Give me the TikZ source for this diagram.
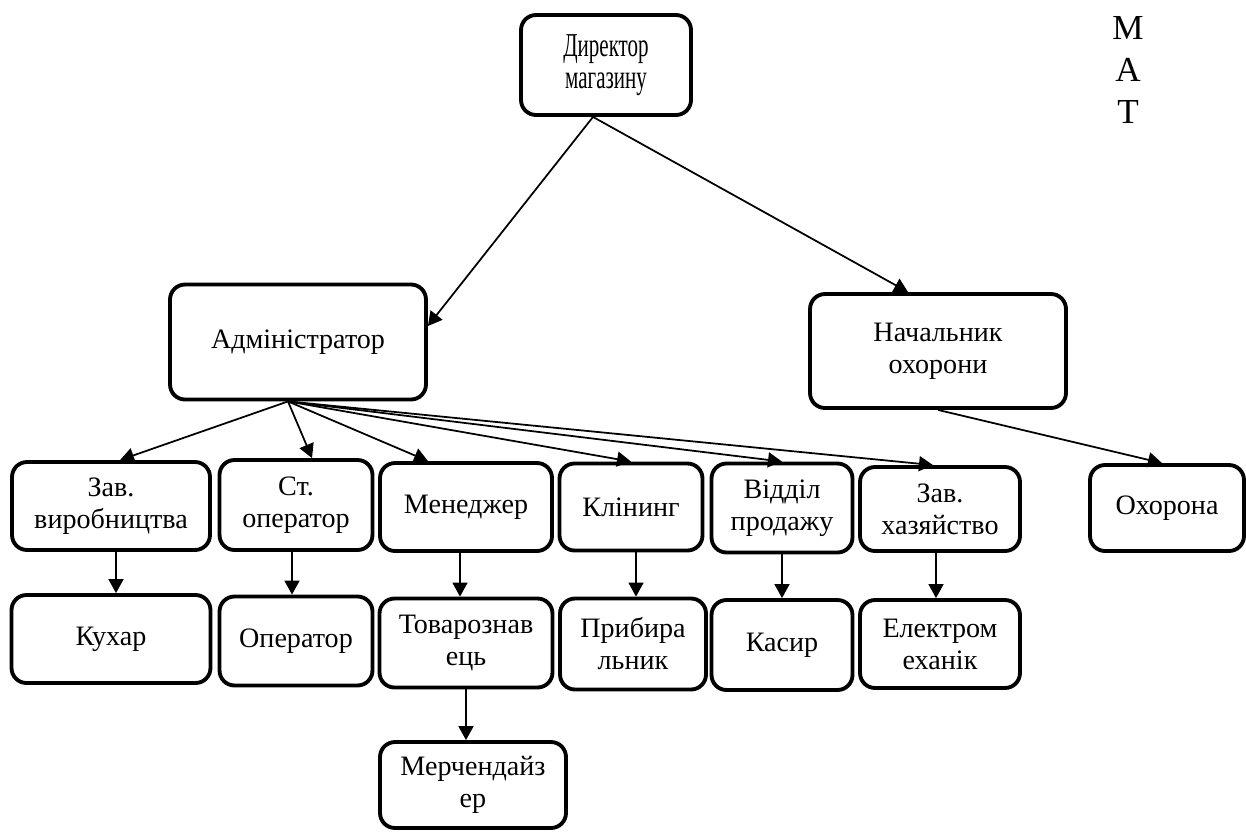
\documentclass[tikz,border=0pt]{standalone}
\usepackage{fontspec}
\setmainfont{Liberation Serif}
\newfontfamily\narrowfont[FakeStretch=0.63]{Liberation Serif}
\usepackage{tikz}
\usetikzlibrary{calc}
\usetikzlibrary{arrows.meta}

\begin{document}
\begin{tikzpicture}[x=0.02cm, y=-0.02cm,
  box/.style={draw, line width=2.2pt, rounded corners=0.3cm, align=center,
    inner sep=1pt, font=\fontsize{16}{18.2}\selectfont},
  arr/.style={-{Triangle[length=0.28cm, width=0.3cm]}, line width=1pt}]

\useasboundingbox (0,0) rectangle (1246,832);

\node[box, minimum width=3.40cm, minimum height=2.00cm,
  font=\fontsize{19}{18.5}\narrowfont] (dir) at (606,65) {Директор\\магазину};
\node[box, minimum width=5.12cm, minimum height=2.30cm] (adm) at (298,342) {Адміністратор};
\node[box, minimum width=5.12cm, minimum height=2.28cm] (nach) at (938,351) {Начальник\\охорони};
\node[font=\fontsize{20}{24}\selectfont, align=center] (mat) at (1128,70) {М\\А\\Т};

\node[box, minimum width=3.96cm, minimum height=1.76cm] (zv) at (111,506) {Зав.\\виробництва};
\node[box, minimum width=3.06cm, minimum height=1.80cm] (stop) at (296,505) {Ст.\\оператор};
\node[box, minimum width=3.44cm, minimum height=1.76cm] (men) at (466,507) {Менеджер};
\node[box, minimum width=2.86cm, minimum height=1.74cm] (klin) at (631,507) {Клінинг};
\node[box, minimum width=2.82cm, minimum height=1.78cm] (vid) at (782,508) {Відділ\\продажу};
\node[box, minimum width=3.20cm, minimum height=1.68cm] (zg) at (940,509) {Зав.\\хазяйство};
\node[box, minimum width=3.08cm, minimum height=1.72cm] (ohr) at (1167,508) {Охорона};

\node[box, minimum width=3.98cm, minimum height=1.76cm] (kuh) at (111,639) {Кухар};
\node[box, minimum width=3.06cm, minimum height=1.78cm] (oper) at (296,641) {Оператор};
\node[box, minimum width=3.46cm, minimum height=1.78cm] (tov) at (466,643) {Товарознав\\ець};
\node[box, minimum width=2.92cm, minimum height=1.82cm] (prib) at (633,644) {Прибира\\льник};
\node[box, minimum width=2.82cm, minimum height=1.80cm] (kas) at (782,645) {Касир};
\node[box, minimum width=3.20cm, minimum height=1.76cm] (el) at (940,644) {Електром\\еханік};
\node[box, minimum width=3.72cm, minimum height=1.72cm] (mer) at (473,785) {Мерчендайз\\ер};

\coordinate (dirfoot) at ([xshift=-0.26cm]dir.south);
\coordinate (admfoot) at ([xshift=-0.2cm]adm.south);

\draw[arr] (dirfoot) -- ([yshift=0.32cm]adm.east);
\draw[arr] (dirfoot) -- ([xshift=-0.6cm]nach.north);
\draw[arr] (nach.south) -- ([xshift=-0.1cm]ohr.north);

\draw[arr] (admfoot) -- ([xshift=0.18cm]zv.north);
\draw[arr] (admfoot) -- ([xshift=0.32cm]stop.north);
\draw[arr] (admfoot) -- ([xshift=-0.76cm]men.north);
\draw[arr] (admfoot) -- (klin.north);
\draw[arr] (admfoot) -- (vid.north);
\draw[arr] (admfoot) -- ([xshift=-0.14cm]zg.north);

\draw[arr] ([xshift=0.1cm]zv.south) -- ([xshift=0.1cm]zv.south |- kuh.north);
\draw[arr] ([xshift=-0.08cm]stop.south) -- ([xshift=-0.08cm]stop.south |- oper.north);
\draw[arr] ([xshift=-0.12cm]men.south) -- ([xshift=-0.12cm]men.south |- tov.north);
\draw[arr] ([xshift=0.1cm]klin.south) -- ([xshift=0.1cm]klin.south |- prib.north);
\draw[arr] (vid.south) -- (vid.south |- kas.north);
\draw[arr] ([xshift=-0.08cm]zg.south) -- ([xshift=-0.08cm]zg.south |- el.north);
\draw[arr] (tov.south) -- (tov.south |- mer.north);

\end{tikzpicture}
\end{document}
